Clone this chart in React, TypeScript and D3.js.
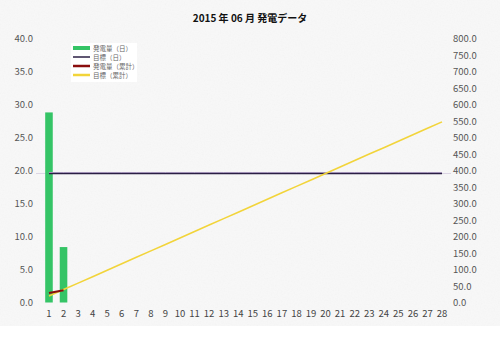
import * as d3 from "d3";

const TITLE = "2015 年 06 月 発電データ";
const days = d3.range(1, 29).map(String);
const dailyGen = [28.8, 8.4];
const dailyTarget = [
  19.55, 19.55, 19.55, 19.55, 19.55, 19.55, 19.55, 19.55, 19.55, 19.55,
  19.55, 19.55, 19.55, 19.55, 19.55, 19.55, 19.55, 19.55, 19.55, 19.55,
  19.55, 19.55, 19.55, 19.55, 19.55, 19.55, 19.55, 19.55,
];
const cumGen = [28.8, 37.2];
const cumTarget = [
  19.6, 39.1, 58.7, 78.2, 97.8, 117.3, 136.9, 156.4, 176.0, 195.5,
  215.1, 234.6, 254.2, 273.7, 293.3, 312.8, 332.4, 351.9, 371.5, 391.0,
  410.6, 430.1, 449.7, 469.2, 488.8, 508.3, 527.9, 547.4,
];
const leftTicks = [0, 5, 10, 15, 20, 25, 30, 35, 40];
const rightTicks = [0, 50, 100, 150, 200, 250, 300, 350, 400, 450, 500, 550, 600, 650, 700, 750, 800];
const legendItems = [
  { label: "発電量（日）", color: "#35c466", w: 4 },
  { label: "目標（日）", color: "#2b1f45", w: 1.5 },
  { label: "発電量（累計）", color: "#8a0e0e", w: 2.5 },
  { label: "目標（累計）", color: "#f2d43a", w: 2.5 },
];

const W = 500, H = 352;
const font = "'Noto Sans CJK JP', 'DejaVu Sans', sans-serif";

export default function App() {
  const x = d3.scaleBand().domain(days).range([41.7, 449.3]).paddingInner(0.48).paddingOuter(0.24);
  const cx = (i: number) => (x(days[i]) ?? 0) + x.bandwidth() / 2;
  const yL = d3.scaleLinear().domain([0, 40]).range([302.5, 38.5]);
  const yR = d3.scaleLinear().domain([0, 800]).range([302.5, 38.5]);

  const lineL = d3.line<number>().x((_, i) => cx(i)).y((d) => yL(d));
  const lineR = d3.line<number>().x((_, i) => cx(i)).y((d) => yR(d));

  return (
    <svg width={W} height={H} style={{ position: "absolute", left: 0, top: 0 }} fontFamily={font}>
      <defs>
        <filter id="paper" x="0" y="0" width="100%" height="100%">
          <feTurbulence type="fractalNoise" baseFrequency="0.7" numOctaves="2" seed="3" result="n" />
          <feColorMatrix type="saturate" values="0" in="n" result="g" />
          <feComponentTransfer in="g">
            <feFuncA type="linear" slope="0.06" />
          </feComponentTransfer>
        </filter>
      </defs>
      <rect width={W} height={H} fill="#ffffff" />
      <rect width={W} height={326} fill="#f8f8f8" />
      <rect width={W} height={326} filter="url(#paper)" />

      <text x={250} y={22} textAnchor="middle" fontSize={10} fontWeight="bold" fill="#111">
        {TITLE}
      </text>

      {/* left axis */}
      {leftTicks.map((t) => (
        <text key={"l" + t} x={33} y={yL(t) + 3.5} textAnchor="end" fontSize={9.5} fill="#555">
          {t.toFixed(1)}
        </text>
      ))}
      {/* right axis */}
      {rightTicks.map((t) => (
        <text key={"r" + t} x={453} y={yR(t) + 3.5} fontSize={9.5} fill="#555">
          {t.toFixed(1)}
        </text>
      ))}
      {/* x axis */}
      {days.map((d, i) => (
        <text key={"x" + d} x={cx(i)} y={317} textAnchor="middle" fontSize={9.5} fill="#444">
          {d}
        </text>
      ))}

      {/* faint guide at target level */}
      <line x1={36} x2={451} y1={yL(dailyTarget[0])} y2={yL(dailyTarget[0])} stroke="#dcd4e4" strokeWidth={1} />

      {/* bars */}
      {dailyGen.map((v, i) => (
        <rect key={"b" + i} x={x(days[i])} y={yL(v)} width={x.bandwidth()} height={yL(0) - yL(v)} fill="#35c466" />
      ))}

      {/* daily target */}
      <path d={lineL(dailyTarget) ?? ""} transform="translate(0,-1)" fill="none" stroke="#c9b8dc" strokeWidth={1} />
      <path d={lineL(dailyTarget) ?? ""} fill="none" stroke="#2b1f45" strokeWidth={1.5} />

      {/* cumulative target */}
      <path d={lineR(cumTarget) ?? ""} fill="none" stroke="#f2d43a" strokeWidth={1.6} />
      {/* cumulative generation */}
      <path d={lineR(cumGen) ?? ""} fill="none" stroke="#8a0e0e" strokeWidth={2.2} />

      {/* legend */}
      <rect x={71} y={43} width={66} height={39} fill="#ffffff" />
      {legendItems.map((it, i) => (
        <g key={"lg" + i} transform={`translate(73,${48 + i * 9})`}>
          <line x1={0} x2={17} y1={0} y2={0} stroke={it.color} strokeWidth={it.w} />
          <text x={20} y={2.5} fontSize={6.5} fill="#666">
            {it.label}
          </text>
        </g>
      ))}
    </svg>
  );
}
